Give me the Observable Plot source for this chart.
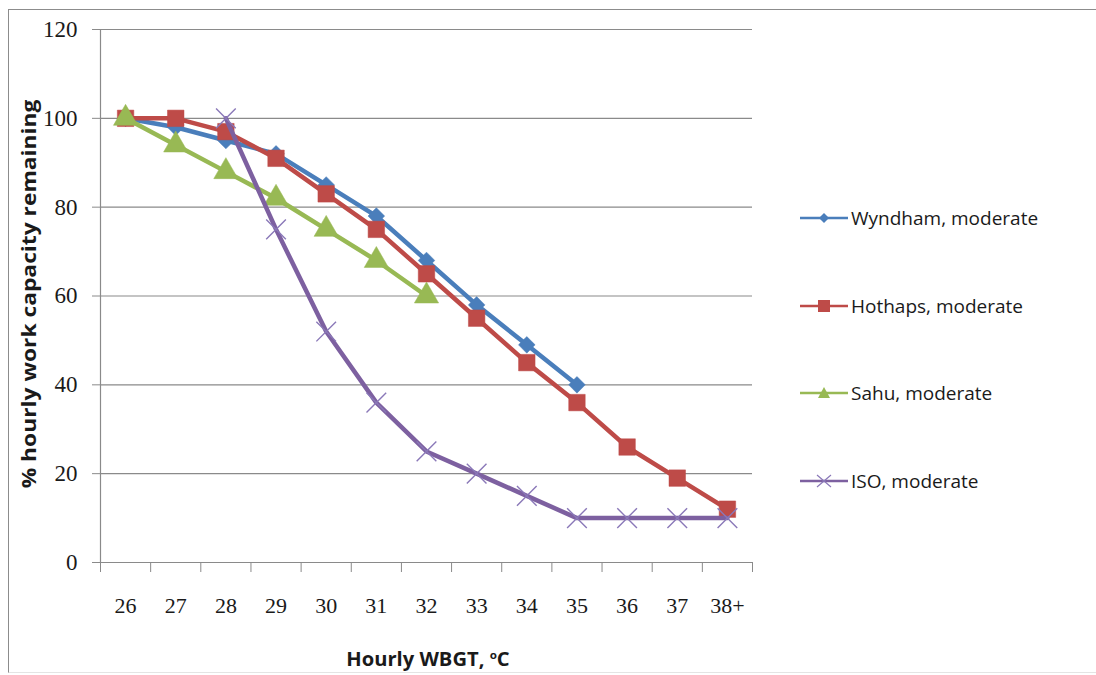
<!DOCTYPE html>
<html>
<head>
<meta charset="utf-8">
<script src="https://cdn.jsdelivr.net/npm/d3@7"></script>
<script src="https://cdn.jsdelivr.net/npm/@observablehq/plot@0.6"></script>
<style>
  body { margin: 0; background: #fff; }
  #wrap { position: relative; width: 1096px; height: 675px; overflow: hidden; background: #fff; }
  #frame { position: absolute; left: 8px; top: 9px; width: 1100px; height: 662px; border-left: 1.5px solid #8c8c8c; border-top: 1.5px solid #8c8c8c; border-bottom: 1px solid #e4e4e4; }
  #ytitle { position: absolute; left: 28px; top: 294px; transform: translate(-50%, -50%) rotate(-90deg) scaleX(1.14); white-space: nowrap; font: bold 20px "Open Sans", sans-serif; color: #1a1a1a; }
  #xtitle { position: absolute; left: 428px; top: 659px; transform: translate(-50%, -50%) scaleX(1.06); white-space: nowrap; font: bold 19px "Open Sans", sans-serif; color: #1a1a1a; }
  #xtitle sup { font-size: 11px; }
  .leg { position: absolute; left: 800px; display: flex; align-items: center; font: 19px "Open Sans", sans-serif; color: #1a1a1a; white-space: nowrap; transform: translateY(-50%); }
  .leg svg { margin-right: 3px; }
  #chart { position: absolute; left: 0; top: 0; }
</style>
</head>
<body>
<div id="wrap">
  <div id="frame"></div>
  <div id="chart"></div>
  <div id="ytitle">% hourly work capacity remaining</div>
  <div id="xtitle">Hourly WBGT, <sup>o</sup>C</div>
</div>
<script>
const categories = ["26","27","28","29","30","31","32","33","34","35","36","37","38+"];
const seriesNames = ["Wyndham, moderate","Hothaps, moderate","Sahu, moderate","ISO, moderate"];
const wyndham = [100, 98, 95, 92, 85, 78, 68, 58, 49, 40];
const hothaps = [100, 100, 97, 91, 83, 75, 65, 55, 45, 36, 26, 19, 12];
const sahu    = [100, 94, 88, 82, 75, 68, 60];
const iso     = [null, null, 100, 75, 52, 36, 25, 20, 15, 10, 10, 10, 10];
const yTicks = [0, 20, 40, 60, 80, 100, 120];
const colors = ["#4a7ebb", "#be4b48", "#98b954", "#7d60a0"];
const symbols = ["diamond2", "square", "triangle", "times"];
const sizes = [7.5, 9.3, 9, 9];

const allValues = [wyndham, hothaps, sahu, iso];
const data = [];
allValues.forEach((vals, s) => {
  vals.forEach((v, i) => {
    if (v != null) data.push({series: seriesNames[s], s, i, x: i + 0.5, cat: categories[i], y: v});
  });
});

const boundaries = d3.range(0, categories.length + 1);
const centers = categories.map((c, i) => i + 0.5);

const marks = [
  Plot.ruleY(yTicks.filter(t => t > 0), {stroke: "#8a8a8a", strokeWidth: 1.2, strokeOpacity: 1}),
  Plot.axisY({ticks: yTicks, tickSize: 8, tickPadding: 15, stroke: "#8a8a8a", fontSize: 23, fontFamily: "Liberation Serif", fill: "#1a1a1a", label: null}),
  Plot.ruleX([0], {stroke: "#8a8a8a", strokeWidth: 1.2}),
  Plot.ruleY([0], {stroke: "#8a8a8a", strokeWidth: 1.2}),
  Plot.axisX({ticks: boundaries, tickSize: 10, tickFormat: () => "", stroke: "#8a8a8a", label: null}),
  Plot.axisX({ticks: centers, tickSize: 0, tickPadding: 35, tickFormat: d => categories[Math.round(d - 0.5)], fontSize: 22, fontFamily: "Liberation Serif", fill: "#1a1a1a", label: null})
];

seriesNames.forEach((name, s) => {
  const d = data.filter(r => r.s === s);
  marks.push(Plot.line(d, {x: "x", y: "y", stroke: colors[s], strokeWidth: 4.5, strokeLinejoin: "round"}));
  if (symbols[s] === "times") {
    marks.push(Plot.dot(d, {x: "x", y: "y", symbol: "times", r: sizes[s], stroke: "#8a78b8", strokeWidth: 1.4, fill: "none"}));
  } else {
    marks.push(Plot.dot(d, {x: "x", y: "y", symbol: symbols[s], r: sizes[s], fill: colors[s], stroke: colors[s], strokeWidth: 0.5}));
  }
});

const chart = Plot.plot({
  width: 1096,
  height: 675,
  marginLeft: 100,
  marginRight: 344,
  marginTop: 29,
  marginBottom: 113,
  style: {background: "transparent", overflow: "visible"},
  x: {type: "linear", domain: [0, categories.length], axis: null},
  y: {domain: [0, 120], axis: null},
  marks
});
document.getElementById("chart").appendChild(chart);

// legend
const legendTops = [218, 306, 393, 481];
const wrap = document.getElementById("wrap");
seriesNames.forEach((name, s) => {
  const div = document.createElement("div");
  div.className = "leg";
  div.style.top = legendTops[s] + "px";
  const sym = d3.create("svg").attr("width", 48).attr("height", 20);
  sym.append("line").attr("x1", 0).attr("x2", 48).attr("y1", 10).attr("y2", 10).attr("stroke", colors[s]).attr("stroke-width", 2.5);
  const g = sym.append("g").attr("transform", "translate(24,10)");
  if (symbols[s] === "diamond2") g.append("path").attr("d", "M0,-5L5,0L0,5L-5,0Z").attr("fill", colors[s]);
  if (symbols[s] === "square") g.append("rect").attr("x", -6).attr("y", -6).attr("width", 12).attr("height", 12).attr("fill", colors[s]);
  if (symbols[s] === "triangle") g.append("path").attr("d", "M0,-6L6,5L-6,5Z").attr("fill", colors[s]);
  if (symbols[s] === "times") g.append("path").attr("d", "M-7,-6L7,6M-7,6L7,-6").attr("stroke", "#8a78b8").attr("stroke-width", 1.2);
  div.appendChild(sym.node());
  const span = document.createElement("span");
  span.textContent = name;
  div.appendChild(span);
  wrap.appendChild(div);
});
</script>
</body>
</html>
